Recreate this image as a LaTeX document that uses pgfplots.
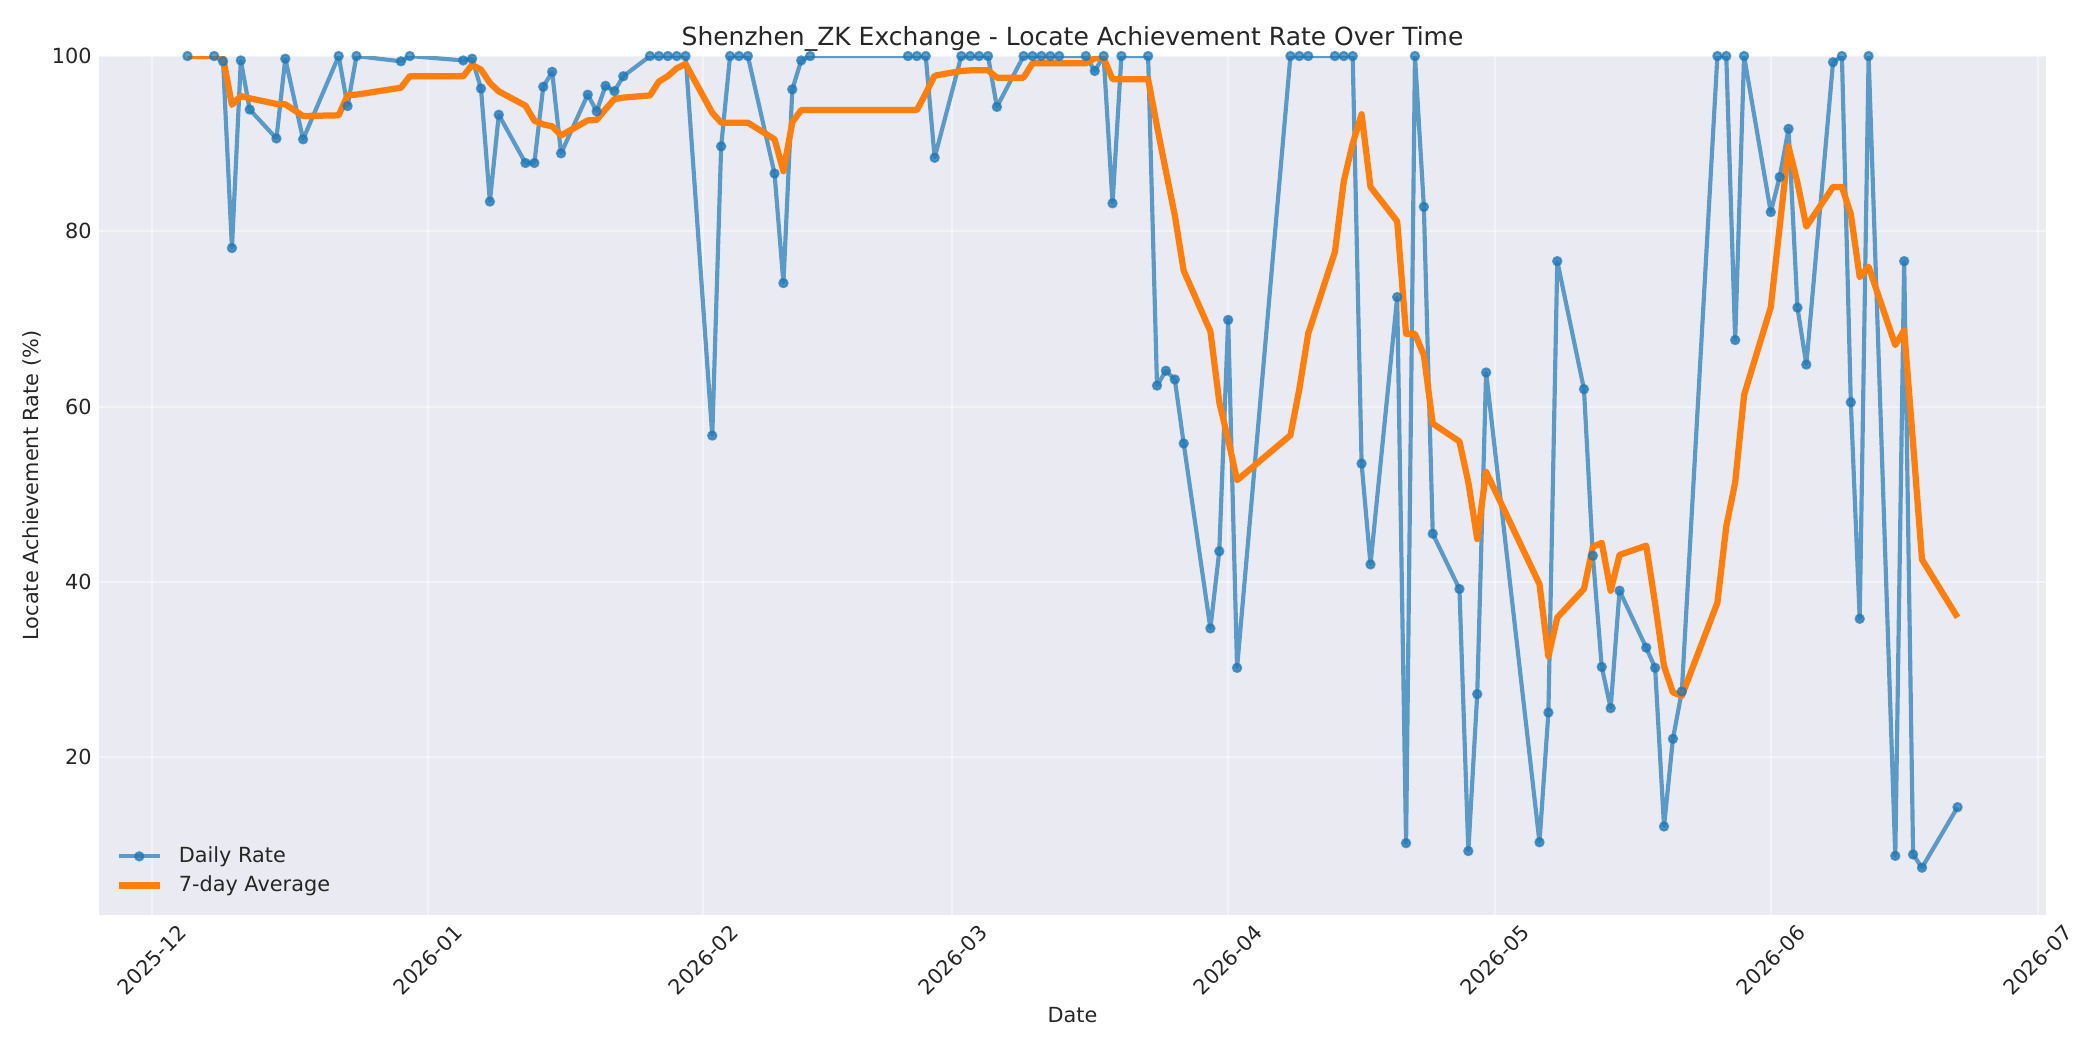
\documentclass[border=0pt]{standalone}
\usepackage{fontspec}
\setmainfont{DejaVu Sans}
\usepackage{pgfplots}
\usepackage{pgfplotstable}
\pgfplotsset{compat=1.18}

\definecolor{bgc}{HTML}{EAEAF2}
\definecolor{c0}{HTML}{1F77B4}
\definecolor{c1}{HTML}{FF7F0E}
\definecolor{txt}{HTML}{262626}

% d = days since 2025-12-01, rate = daily rate, avg = 7-point rolling mean
\pgfplotstableread{
d rate avg
4 100 100
7 100 100
8 99.4 99.80
9 78.1 94.43
10 99.5 95.44
11 93.9 95.18
14 90.6 94.54
15 99.7 94.50
17 90.5 93.16
21 100 93.24
22 94.3 95.53
23 100 95.60
28 99.4 96.39
29 100 97.71
35 99.5 97.69
36 99.7 98.99
37 96.3 98.46
38 83.4 96.93
39 93.3 95.97
42 87.8 94.34
43 87.8 92.63
44 96.5 92.20
45 98.2 91.99
46 88.9 90.94
49 95.6 92.66
50 93.7 92.71
51 96.6 93.94
52 96.0 95.09
53 97.7 95.26
56 100 95.51
57 100 97.09
58 100 97.71
59 100 98.61
60 100 99.10
63 56.7 93.53
64 89.7 92.40
65 100 92.40
66 100 92.40
67 100 92.40
70 86.6 90.51
71 74.1 86.86
72 96.2 92.46
73 99.5 93.84
74 100 93.84
85 100 93.84
86 100 93.84
87 100 95.73
88 88.4 97.76
91 100 98.30
92 100 98.37
93 100 98.37
94 100 98.37
95 94.2 97.54
98 100 97.54
99 100 99.17
100 100 99.17
101 100 99.17
102 100 99.17
105 100 99.17
106 98.3 99.76
107 100 99.76
108 83.2 97.36
109 100 97.36
112 100 97.36
113 62.4 91.99
114 64.1 86.86
115 63.1 81.83
116 55.8 75.51
119 34.7 68.59
120 43.5 60.51
121 69.9 56.21
122 30.2 51.61
128 100 56.74
129 100 62.01
130 100 68.33
133 100 77.66
134 100 85.73
135 100 90.03
136 53.5 93.36
137 42.0 85.07
140 72.5 81.14
141 10.2 68.31
142 100 68.31
143 82.8 65.86
144 45.5 58.07
147 39.2 56.03
148 9.3 51.36
149 27.2 44.89
150 63.9 52.56
156 10.3 39.74
157 25.1 31.50
158 76.6 35.94
161 62.0 39.20
162 43.0 44.01
163 30.3 44.46
164 25.6 38.99
165 39.0 43.09
168 32.5 44.14
169 30.2 37.51
170 12.1 30.39
171 22.1 27.40
172 27.5 27.00
176 100 37.63
177 100 46.34
178 67.6 51.36
179 100 61.33
182 82.2 71.34
183 86.2 80.50
184 91.7 89.67
185 71.3 85.57
186 64.8 80.54
189 99.3 85.07
190 100 85.07
191 60.5 81.97
192 35.8 74.77
193 100 75.96
196 8.75 67.02
197 76.6 68.71
198 8.9 55.79
199 7.4 42.56
203 14.3 35.96
}\ratedata

\begin{document}
\begin{tikzpicture}
\begin{axis}[
    at={(47.5pt,64.8pt)}, anchor=south west,
    scale only axis, width=934.6pt, height=412.3pt,
    xmin=-5.95, xmax=212.95, ymin=2.0, ymax=100,
    axis background/.style={fill=bgc},
    axis line style={draw=none},
    major tick length=0pt,
    grid=major,
    major grid style={white, line width=1pt, opacity=0.45},
    xtick={0,31,62,90,121,151,182,212},
    xticklabels={2025-12,2026-01,2026-02,2026-03,2026-04,2026-05,2026-06,2026-07},
    xticklabel style={rotate=45, anchor=center, font=\fontsize{10}{12}\selectfont, text=txt},
    xticklabel shift=21.6pt,
    ytick={20,40,60,80,100},
    yticklabel style={font=\fontsize{10}{12}\selectfont, text=txt},
    /pgf/number format/assume math mode=true,
    title={Shenzhen\_ZK Exchange - Locate Achievement Rate Over Time},
    title style={at={(axis description cs:0.5,1)}, anchor=base, yshift=-0.7pt, font=\fontsize{12}{14}\selectfont, text=txt},
    xlabel={Date},
    xlabel style={at={(axis description cs:0.5,-0.1164)}, anchor=center, font=\fontsize{10}{12}\selectfont, text=txt},
    ylabel={Locate Achievement Rate (\%)},
    ylabel style={at={(axis description cs:-0.0342,0.5)}, anchor=center, font=\fontsize{10}{12}\selectfont, text=txt},
    legend image code/.code={\draw[mark repeat=2,mark phase=2] plot coordinates {(0cm,0cm) (0.35cm,0cm) (0.7cm,0cm)};},
    legend style={at={(axis description cs:0,0)}, anchor=south west, xshift=7.7pt, yshift=9.4pt,
        draw=none, fill=none, inner sep=0pt, row sep=4.9pt,
        font=\fontsize{10}{12}\selectfont, text=txt,
        nodes={inner sep=0pt},
        /tikz/every odd column/.append style={column sep=7.5pt}},
    legend cell align=left,
]
\addplot[color=c0, opacity=0.7, line width=2pt, line join=round,
    mark=*, mark size=2pt, mark options={solid, fill=c0, draw=c0, line width=1pt}]
    table[x=d, y=rate] {\ratedata};
\addlegendentry{Daily Rate}
\addplot[color=c1, line width=3pt, line join=round, no marks]
    table[x=d, y=avg] {\ratedata};
\addlegendentry{7-day Average}
\end{axis}
\pgfresetboundingbox
\path (0,0) rectangle (1008pt,504pt);
\end{tikzpicture}
\end{document}
